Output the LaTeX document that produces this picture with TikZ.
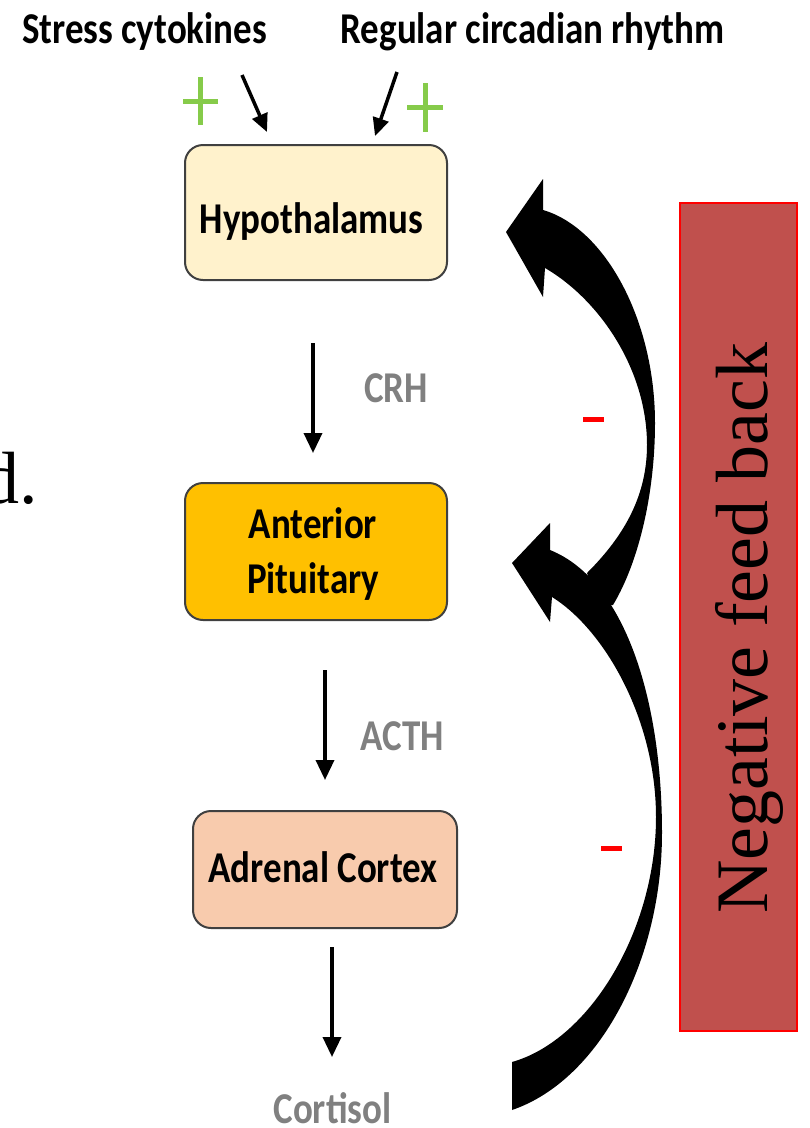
\documentclass[tikz,border=0pt]{standalone}
\usepackage{fontspec}
\setmainfont{Liberation Serif}
\newfontfamily\carl{Carlito}
\usetikzlibrary{arrows.meta}
\definecolor{hypfill}{HTML}{FFF2CC}
\definecolor{antfill}{HTML}{FFC000}
\definecolor{adrfill}{HTML}{F8CBAD}
\definecolor{boxline}{HTML}{404040}
\definecolor{nfbfill}{HTML}{C0504D}
\definecolor{plusgreen}{HTML}{86CB4A}
\definecolor{hormgray}{HTML}{808080}
\newcommand\cbtext[1]{\scalebox{0.84}[1]{#1}}
\begin{document}
\begin{tikzpicture}[x=1pt,y=-1pt,
  organ/.style={draw=boxline, line width=2pt, rounded corners=18pt, inner sep=0pt},
  lbl/.style={font=\carl\bfseries\fontsize{44}{55}\selectfont, inner sep=0pt, anchor=base},
  horm/.style={lbl, text=hormgray},
  flow/.style={-{Triangle[length=20pt,width=18pt]}, line width=3.5pt},
  inarr/.style={-{Triangle[length=18pt,width=16pt]}, line width=3.5pt},
  plusbar/.style={draw=plusgreen, line width=5pt},
  minus/.style={fill=red, minimum width=21pt, minimum height=5pt, inner sep=0pt},
  big/.style={fill=black},
  serifbig/.style={font=\fontsize{74}{80}\selectfont, inner sep=0pt}
]
\useasboundingbox (0,0) rectangle (810,1128);

% top inputs
\node[lbl] (stress) at (144.5,43) {\cbtext{Stress cytokines}};
\node[lbl] (circ) at (532.5,43) {\cbtext{Regular circadian rhythm}};
\draw[plusbar] (183,101.7) -- (218,101.7) (200.7,77) -- (200.7,125);
\draw[plusbar] (407,107) -- (443,107) (425,83) -- (425,132);
\coordinate (s1) at (242,75);
\coordinate (s2) at (267,132);
\coordinate (r1) at (397,72);
\coordinate (r2) at (375,136);
\draw[inarr] (s1) -- (s2);
\draw[inarr] (r1) -- (r2);

% boxes
\node[organ, fill=hypfill, minimum width=262pt, minimum height=135pt] (hyp) at (316,212.5) {};
\node[lbl] (hyptxt) at (311.5,233) {\cbtext{Hypothalamus}};
\node[organ, fill=antfill, minimum width=262pt, minimum height=137pt] (ant) at (316,551.5) {};
\node[lbl] (anttxt1) at (313,538) {\cbtext{Anterior}};
\node[lbl] (anttxt2) at (313,593) {\cbtext{Pituitary}};
\node[organ, fill=adrfill, minimum width=264pt, minimum height=117pt] (adr) at (325,869.5) {};
\node[lbl] (adrtxt) at (323,882) {\cbtext{Adrenal Cortex}};

% hormones
\coordinate (c1) at (313,343);
\coordinate (c2) at (313,453);
\draw[flow] (c1) -- (c2);
\node[horm] (crh) at (396,402) {\cbtext{CRH}};
\coordinate (a1) at (325,670);
\coordinate (a2) at (325,780);
\draw[flow] (a1) -- (a2);
\node[horm] (acth) at (402.5,750) {\cbtext{ACTH}};
\coordinate (k1) at (332,947);
\coordinate (k2) at (332,1057);
\draw[flow] (k1) -- (k2);
\node[horm] (cort) at (332.5,1123) {\cbtext{Cortisol}};

% feedback arrows
\fill[big] (506,232) -- (543,179) -- (543,210)
  .. controls (605,228) and (655,320) .. (655,423)
  .. controls (655,490) and (640,560) .. (613,605)
  -- (598,605) -- (587,573)
  .. controls (620,540) and (647,500) .. (647,445)
  .. controls (647,370) and (600,300) .. (545,268)
  -- (543,297) -- cycle;
\fill[big] (512,563) -- (550,523) -- (550,550)
  .. controls (625,580) and (662,700) .. (662,833)
  .. controls (662,960) and (600,1080) .. (512,1110)
  -- (512,1062)
  .. controls (590,1040) and (656,930) .. (656,817)
  .. controls (656,720) and (605,630) .. (552,597)
  -- (550,622) -- cycle;
\node[minus] (m1) at (593.5,419.5) {};
\node[minus] (m2) at (611,848) {};

% negative feedback box
\node[draw=red, line width=2pt, fill=nfbfill, minimum width=117pt, minimum height=828pt, inner sep=0pt] (nfb) at (738.5,616.5) {};
\node[serifbig, rotate=90, anchor=base] (nfbtxt) at (767,628) {Negative feed back};

% cut-off slide text
\node[serifbig, anchor=base east] (dtxt) at (38,503) {d.};
\end{tikzpicture}
\end{document}
